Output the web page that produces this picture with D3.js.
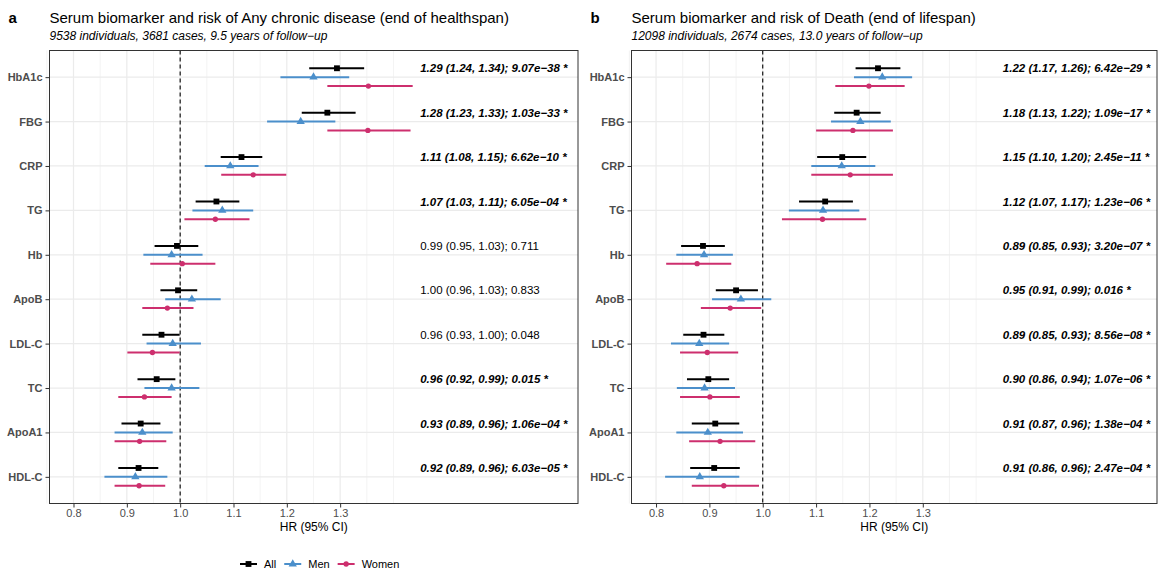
<!DOCTYPE html>
<html>
<head>
<meta charset="utf-8">
<script src="https://cdn.jsdelivr.net/npm/d3@7"></script>
<style>
  body { margin: 0; background: #fff; }
  svg { font-family: "Liberation Sans", Arial, Helvetica, sans-serif; }
</style>
</head>
<body>
<div class="chart"></div>
<script>
// biomarkers, top to bottom
var markers = ['HbA1c', 'FBG', 'CRP', 'TG', 'Hb', 'ApoB', 'LDL-C', 'TC', 'ApoA1', 'HDL-C'];
var groups = ['All', 'Men', 'Women'];
var xTicks = [0.8, 0.9, 1.0, 1.1, 1.2, 1.3];

// panel a: any chronic disease
var aAll   = [1.294, 1.276, 1.115, 1.068, 0.994, 0.996, 0.965, 0.956, 0.926, 0.922];
var aAllLo = [1.242, 1.228, 1.076, 1.029, 0.952, 0.963, 0.929, 0.920, 0.890, 0.884];
var aAllHi = [1.345, 1.329, 1.154, 1.111, 1.034, 1.032, 0.999, 0.991, 0.963, 0.959];
var aMen   = [1.250, 1.226, 1.094, 1.079, 0.984, 1.022, 0.986, 0.984, 0.929, 0.916];
var aMenLo = [1.188, 1.163, 1.046, 1.023, 0.931, 0.972, 0.937, 0.933, 0.877, 0.858];
var aMenHi = [1.317, 1.291, 1.147, 1.137, 1.042, 1.076, 1.039, 1.036, 0.986, 0.976];
var aWom   = [1.353, 1.352, 1.137, 1.066, 1.004, 0.976, 0.948, 0.933, 0.924, 0.923];
var aWomLo = [1.276, 1.276, 1.077, 1.008, 0.944, 0.929, 0.901, 0.884, 0.877, 0.877];
var aWomHi = [1.436, 1.432, 1.199, 1.130, 1.066, 1.025, 0.999, 0.984, 0.974, 0.972];
var aText = [
  '1.29 (1.24, 1.34); 9.07e\u221238 *',
  '1.28 (1.23, 1.33); 1.03e\u221233 *',
  '1.11 (1.08, 1.15); 6.62e\u221210 *',
  '1.07 (1.03, 1.11); 6.05e\u221204 *',
  '0.99 (0.95, 1.03); 0.711',
  '1.00 (0.96, 1.03); 0.833',
  '0.96 (0.93, 1.00); 0.048',
  '0.96 (0.92, 0.99); 0.015 *',
  '0.93 (0.89, 0.96); 1.06e\u221204 *',
  '0.92 (0.89, 0.96); 6.03e\u221205 *'
];

// panel b: death
var bAll   = [1.216, 1.176, 1.149, 1.117, 0.888, 0.950, 0.889, 0.898, 0.911, 0.909];
var bAllLo = [1.174, 1.134, 1.102, 1.068, 0.847, 0.912, 0.851, 0.858, 0.867, 0.864];
var bAllHi = [1.258, 1.221, 1.194, 1.169, 0.929, 0.991, 0.928, 0.937, 0.956, 0.957];
var bMen   = [1.224, 1.183, 1.148, 1.113, 0.890, 0.959, 0.881, 0.891, 0.897, 0.882];
var bMenLo = [1.171, 1.128, 1.091, 1.049, 0.838, 0.905, 0.828, 0.839, 0.838, 0.817];
var bMenHi = [1.280, 1.240, 1.211, 1.181, 0.944, 1.016, 0.937, 0.948, 0.963, 0.956];
var bWom   = [1.199, 1.169, 1.164, 1.112, 0.877, 0.939, 0.896, 0.901, 0.920, 0.927];
var bWomLo = [1.136, 1.100, 1.091, 1.036, 0.819, 0.884, 0.845, 0.845, 0.862, 0.867];
var bWomHi = [1.266, 1.244, 1.244, 1.194, 0.941, 0.997, 0.954, 0.957, 0.986, 0.993];
var bText = [
  '1.22 (1.17, 1.26); 6.42e\u221229 *',
  '1.18 (1.13, 1.22); 1.09e\u221217 *',
  '1.15 (1.10, 1.20); 2.45e\u221211 *',
  '1.12 (1.07, 1.17); 1.23e\u221206 *',
  '0.89 (0.85, 0.93); 3.20e\u221207 *',
  '0.95 (0.91, 0.99); 0.016 *',
  '0.89 (0.85, 0.93); 8.56e\u221208 *',
  '0.90 (0.86, 0.94); 1.07e\u221206 *',
  '0.91 (0.87, 0.96); 1.38e\u221204 *',
  '0.91 (0.86, 0.96); 2.47e\u221204 *'
];

var colors = { All: '#000000', Men: '#4b8fcb', Women: '#cd2f6e' };
var dodge = { All: -0.2, Men: 0, Women: 0.2 };

function rows(hr, lo, hi, grp) {
  return markers.map((m, i) => ({ marker: m, group: grp, hr: hr[i], lo: lo[i], hi: hi[i] }));
}

var panels = [
  {
    tag: 'a', left: 49.5, right: 578, xDomain: [0.755, 1.746],
    title: 'Serum biomarker and risk of Any chronic disease (end of healthspan)',
    sub: '9538 individuals, 3681 cases, 9.5 years of follow\u2212up',
    data: rows(aAll, aAllLo, aAllHi, 'All').concat(rows(aMen, aMenLo, aMenHi, 'Men'), rows(aWom, aWomLo, aWomHi, 'Women')),
    text: aText
  },
  {
    tag: 'b', left: 631.5, right: 1157, xDomain: [0.754, 1.739],
    title: 'Serum biomarker and risk of Death (end of lifespan)',
    sub: '12098 individuals, 2674 cases, 13.0 years of follow\u2212up',
    data: rows(bAll, bAllLo, bAllHi, 'All').concat(rows(bMen, bMenLo, bMenHi, 'Men'), rows(bWom, bWomLo, bWomHi, 'Women')),
    text: bText
  }
];

var plotTop = 50.5, plotBottom = 503.5;

var svg = d3.select('.chart')
  .append('svg')
    .attr('width', 1159)
    .attr('height', 572);

var y = d3.scalePoint().domain(markers).range([plotTop, plotBottom]).padding(0.6);
var step = y.step();

// symbol paths for each group
var shape = {
  All: d3.symbol(d3.symbolSquare, 34)(),
  Men: d3.symbol(d3.symbolTriangle, 30)(),
  Women: d3.symbol(d3.symbolCircle, 22)()
};

panels.forEach(function (p) {
  var x = d3.scaleLinear().domain(p.xDomain).range([p.left, p.right]);
  var g = svg.append('g');

  // tag + titles
  g.append('text')
    .attr('x', p.left - 41).attr('y', 23)
    .style('font-size', '15px').style('font-weight', 'bold')
    .text(p.tag);
  g.append('text')
    .attr('x', p.left).attr('y', 23)
    .style('font-size', '15px')
    .text(p.title);
  g.append('text')
    .attr('x', p.left).attr('y', 40)
    .style('font-size', '12px').style('font-style', 'italic')
    .text(p.sub);

  // grid
  var minor = d3.range(0.75, 1.41, 0.05).filter(v => !xTicks.some(t => Math.abs(t - v) < 1e-6));
  g.selectAll('.minor').data(minor).enter()
    .append('line')
    .attr('x1', d => x(d)).attr('x2', d => x(d))
    .attr('y1', plotTop).attr('y2', plotBottom)
    .attr('stroke', '#ebebeb').attr('stroke-width', 0.6);
  g.selectAll('.major').data(xTicks).enter()
    .append('line')
    .attr('x1', d => x(d)).attr('x2', d => x(d))
    .attr('y1', plotTop).attr('y2', plotBottom)
    .attr('stroke', '#ebebeb').attr('stroke-width', 1.2);
  g.selectAll('.hgrid').data(markers).enter()
    .append('line')
    .attr('x1', p.left).attr('x2', p.right)
    .attr('y1', d => y(d)).attr('y2', d => y(d))
    .attr('stroke', '#ebebeb').attr('stroke-width', 1.2);

  // reference line at HR = 1
  g.append('line')
    .attr('x1', x(1)).attr('x2', x(1))
    .attr('y1', plotTop).attr('y2', plotBottom)
    .attr('stroke', '#000').attr('stroke-width', 1.1)
    .attr('stroke-dasharray', '4,3');

  // CI lines and points
  var mark = g.selectAll('.mark').data(p.data).enter()
    .append('g')
    .attr('transform', d => 'translate(0,' + (y(d.marker) + dodge[d.group] * step) + ')');
  mark.append('line')
    .attr('x1', d => x(d.lo)).attr('x2', d => x(d.hi))
    .attr('stroke', d => colors[d.group]).attr('stroke-width', 2);
  mark.append('path')
    .attr('d', d => shape[d.group])
    .attr('transform', d => 'translate(' + x(d.hr) + ',0)')
    .attr('fill', d => colors[d.group]);

  // estimate labels
  g.selectAll('.lab').data(p.text).enter()
    .append('text')
    .attr('x', x(1.45))
    .attr('y', (d, i) => y(markers[i]) + dodge.All * step)
    .attr('dy', '0.35em')
    .style('font-size', '11.5px')
    .style('font-weight', d => d.endsWith('*') ? 'bold' : 'normal')
    .style('font-style', d => d.endsWith('*') ? 'italic' : 'normal')
    .text(d => d);

  // border
  g.append('rect')
    .attr('x', p.left).attr('y', plotTop)
    .attr('width', p.right - p.left).attr('height', plotBottom - plotTop)
    .attr('fill', 'none').attr('stroke', '#333').attr('stroke-width', 1);

  // axes
  var xa = g.append('g')
    .attr('transform', 'translate(0,' + plotBottom + ')')
    .call(d3.axisBottom(x).tickValues(xTicks).tickFormat(d3.format('.1f')).tickSize(4).tickPadding(2));
  var ya = g.append('g')
    .attr('transform', 'translate(' + p.left + ',0)')
    .call(d3.axisLeft(y).tickSize(4).tickPadding(3));
  [xa, ya].forEach(function (a) {
    a.select('.domain').remove();
    a.selectAll('line').attr('stroke', '#333');
    a.selectAll('text').attr('fill', '#4d4d4d').style('font-size', '11px').style('font-family', null);
  });
  ya.selectAll('text').style('font-weight', 'bold');

  g.append('text')
    .attr('x', (p.left + p.right) / 2).attr('y', 531)
    .attr('text-anchor', 'middle')
    .style('font-size', '12px')
    .text('HR (95% CI)');
});

// legend
var leg = svg.append('g').attr('transform', 'translate(240,564)');
var lx = 0;
groups.forEach(function (grp) {
  var item = leg.append('g').attr('transform', 'translate(' + lx + ',0)');
  item.append('line')
    .attr('x1', 0).attr('x2', 17)
    .attr('stroke', colors[grp]).attr('stroke-width', 2);
  item.append('path')
    .attr('d', shape[grp])
    .attr('transform', 'translate(8.5,0)')
    .attr('fill', colors[grp]);
  var t = item.append('text')
    .attr('x', 24).attr('dy', '0.35em')
    .style('font-size', '11px')
    .text(grp);
  lx += 24 + t.node().getComputedTextLength() + 8;
});
</script>
</body>
</html>
